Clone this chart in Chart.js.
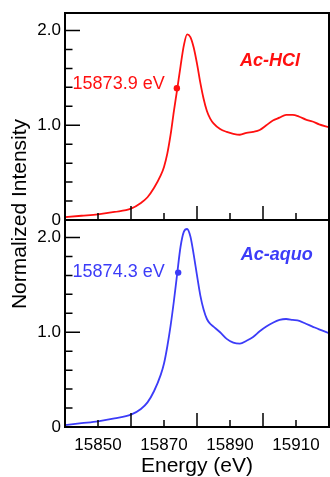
<!DOCTYPE html>
<html>
<head>
<meta charset="utf-8">
<script src="https://cdn.jsdelivr.net/npm/chart.js@4/dist/chart.umd.min.js"></script>
<style>
  html, body { margin: 0; padding: 0; background: #fff; }
  #wrap { position: relative; width: 330px; height: 477px; }
</style>
</head>
<body>
<div id="wrap"><canvas id="xanes" width="330" height="477"></canvas></div>
<script>
// === DATA ===
const energies = [15840, 15845, 15850, 15855, 15860, 15863, 15865, 15867, 15869, 15870,
                  15871, 15872, 15873, 15874, 15875, 15876, 15877, 15878, 15879, 15880,
                  15881, 15882, 15883, 15884, 15885, 15887, 15889, 15891, 15893, 15895,
                  15897, 15899, 15901, 15903, 15905, 15907, 15909, 15911, 15913, 15915,
                  15917, 15920];

const hclIntensity = [0.03, 0.045, 0.06, 0.085, 0.12, 0.18, 0.24, 0.34, 0.47, 0.56,
                      0.70, 0.90, 1.15, 1.38, 1.62, 1.84, 1.96, 1.93, 1.82, 1.65,
                      1.45, 1.28, 1.15, 1.07, 1.02, 0.96, 0.93, 0.91, 0.90, 0.92,
                      0.93, 0.95, 1.00, 1.05, 1.08, 1.11, 1.11, 1.09, 1.06, 1.04,
                      1.01, 0.98];

const aquoIntensity = [0.02, 0.04, 0.06, 0.09, 0.13, 0.19, 0.26, 0.38, 0.55, 0.67,
                       0.85, 1.07, 1.33, 1.62, 1.90, 2.06, 2.09, 2.01, 1.82, 1.60,
                       1.39, 1.24, 1.14, 1.09, 1.06, 1.00, 0.93, 0.89, 0.88, 0.91,
                       0.95, 1.01, 1.06, 1.10, 1.13, 1.14, 1.13, 1.12, 1.09, 1.06,
                       1.03, 0.99];

// edge positions (E0) marked with a dot
const edgeEnergies = [15873.9, 15874.3];
const edgeIntensities = [1.39, 1.63];
const edgeLabels = ['15873.9 eV', '15874.3 eV'];
const sampleNames = ['Ac-HCl', 'Ac-aquo'];

const xTickValues = [15840, 15850, 15860, 15870, 15880, 15890, 15900, 15910, 15920];
const xLabelValues = [15850, 15870, 15890, 15910];
const yTickValues = [0, 0.2, 0.4, 0.6, 0.8, 1.0, 1.2, 1.4, 1.6, 1.8, 2.0];
const yLabelValues = [0, 1, 2];

const RED = '#ff1010';
const BLUE = '#3c3cf8';
const FONT = "'Liberation Sans', Arial, sans-serif";

function toPoints(xs, ys) {
    return xs.map((x, i) => ({ x: x, y: ys[i] }));
}

// ========================================
// PLUGIN: panel frames, inner ticks, text
// ========================================
const panelDecor = {
    id: 'panelDecor',
    afterDraw(chart) {
        const ctx = chart.ctx;
        const xs = chart.scales.x;
        const area = chart.chartArea;
        ctx.save();
        ctx.strokeStyle = '#000';

        ['yTop', 'yBot'].forEach(function(id) {
            const ys = chart.scales[id];
            ctx.lineWidth = 1.5;
            ctx.beginPath();
            xTickValues.forEach(function(e) {
                const px = xs.getPixelForValue(e);
                const len = xLabelValues.indexOf(e) >= 0 ? 7 : 14;
                ctx.moveTo(px, ys.bottom);
                ctx.lineTo(px, ys.bottom - len);
            });
            yTickValues.forEach(function(v) {
                const py = ys.getPixelForValue(v);
                const major = yLabelValues.some(l => Math.abs(l - v) < 1e-6);
                ctx.moveTo(area.left, py);
                ctx.lineTo(area.left + (major ? 15 : 7.5), py);
            });
            ctx.stroke();
            ctx.lineWidth = 2;
            ctx.strokeRect(area.left, ys.top, area.right - area.left, ys.bottom - ys.top);
        });

        // annotations
        const notes = [
            { scale: 'yTop', color: RED, text: edgeLabels[0], x: 15842.3, y: 1.43, align: 'left', font: '18px ' + FONT },
            { scale: 'yBot', color: BLUE, text: edgeLabels[1], x: 15842.3, y: 1.64, align: 'left', font: '18px ' + FONT },
            { scale: 'yTop', color: RED, text: sampleNames[0], x: 15902.1, y: 1.68, align: 'center', font: 'italic bold 18px ' + FONT },
            { scale: 'yBot', color: BLUE, text: sampleNames[1], x: 15904.2, y: 1.82, align: 'center', font: 'italic bold 18px ' + FONT }
        ];
        ctx.textBaseline = 'middle';
        notes.forEach(function(n) {
            ctx.fillStyle = n.color;
            ctx.font = n.font;
            ctx.textAlign = n.align;
            ctx.fillText(n.text, xs.getPixelForValue(n.x), chart.scales[n.scale].getPixelForValue(n.y));
        });

        // axis titles
        ctx.fillStyle = '#000';
        ctx.font = '21px ' + FONT;
        ctx.textAlign = 'center';
        ctx.fillText('Energy (eV)', (area.left + area.right) / 2, 466);
        ctx.translate(20, 214);
        ctx.rotate(-Math.PI / 2);
        ctx.fillText('Normalized Intensity', 0, 0);
        ctx.restore();
    }
};

// ========================================
// CHART
// ========================================
const yAxis = function(weight) {
    return {
        type: 'linear',
        position: 'left',
        stack: 'panels',
        stackWeight: 1,
        weight: weight,
        offset: false,
        min: 0,
        max: 2.185,
        grid: { display: false, drawTicks: false },
        border: { display: false },
        ticks: {
            stepSize: 1,
            includeBounds: false,
            padding: 4,
            color: '#000',
            font: { family: FONT, size: 17 },
            callback: function(value) {
                return value === 0 ? '0' : value.toFixed(1);
            }
        },
        afterFit: function(scale) {
            scale.width = 65;
            scale.paddingTop = 0;
            scale.paddingBottom = 0;
        }
    };
};

new Chart(document.getElementById('xanes').getContext('2d'), {
    type: 'line',
    data: {
        datasets: [
            {
                label: sampleNames[1],
                data: toPoints(energies, aquoIntensity),
                yAxisID: 'yBot',
                borderColor: BLUE,
                borderWidth: 1.8,
                pointRadius: 0,
                cubicInterpolationMode: 'monotone'
            },
            {
                label: sampleNames[0],
                data: toPoints(energies, hclIntensity),
                yAxisID: 'yTop',
                borderColor: RED,
                borderWidth: 1.8,
                pointRadius: 0,
                cubicInterpolationMode: 'monotone'
            },
            {
                data: [{ x: edgeEnergies[0], y: edgeIntensities[0] }],
                yAxisID: 'yTop',
                showLine: false,
                pointRadius: 3.2,
                pointBackgroundColor: RED,
                pointBorderWidth: 0
            },
            {
                data: [{ x: edgeEnergies[1], y: edgeIntensities[1] }],
                yAxisID: 'yBot',
                showLine: false,
                pointRadius: 3.2,
                pointBackgroundColor: BLUE,
                pointBorderWidth: 0
            }
        ]
    },
    options: {
        responsive: false,
        animation: false,
        devicePixelRatio: 1,
        layout: { autoPadding: false, padding: { top: 13, right: 1, left: 0, bottom: 0 } },
        plugins: {
            legend: { display: false },
            tooltip: { enabled: false }
        },
        scales: {
            x: {
                type: 'linear',
                min: 15840,
                max: 15920,
                grid: { display: false, drawTicks: false },
                border: { display: false },
                ticks: {
                    stepSize: 10,
                    includeBounds: false,
                    autoSkip: false,
                    maxRotation: 0,
                    padding: 8,
                    color: '#000',
                    font: { family: FONT, size: 17 },
                    callback: function(value) {
                        return xLabelValues.indexOf(value) >= 0 ? String(value) : '';
                    }
                },
                afterFit: function(scale) {
                    scale.height = 50;
                    scale.paddingLeft = 0;
                    scale.paddingRight = 0;
                }
            },
            yBot: yAxis(1),
            yTop: yAxis(2)
        }
    },
    plugins: [panelDecor]
});
</script>
</body>
</html>
